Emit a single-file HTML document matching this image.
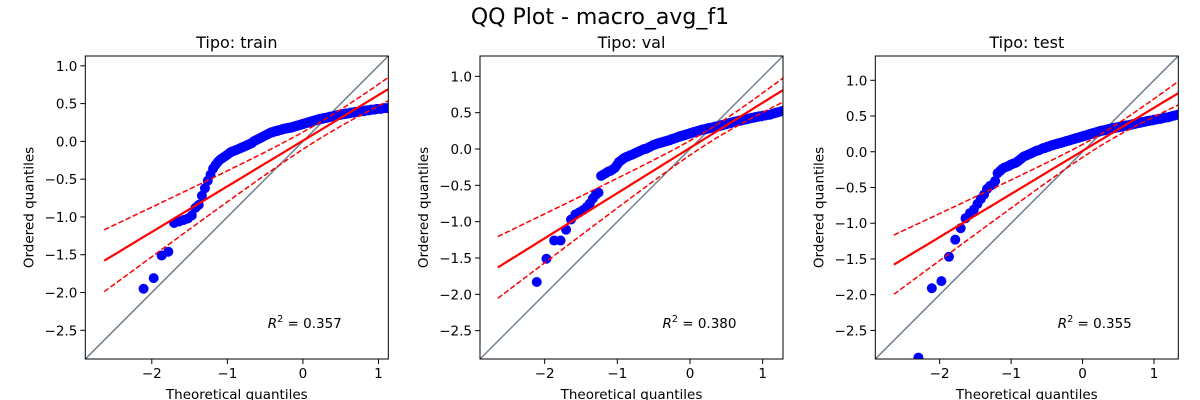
<!DOCTYPE html>
<html><head><meta charset="utf-8"><style>
html,body{margin:0;padding:0;background:#fff;}
svg{display:block;font-family:"DejaVu Sans","Liberation Sans",sans-serif;}
</style></head><body>
<svg id="chart" width="1200" height="400" viewBox="0 0 1200 400">
<text x="600" y="24" font-size="22" text-anchor="middle">QQ Plot - macro_avg_f1</text>
</svg>
<script>
// ---- data ----
const panelTitles = ["Tipo: train", "Tipo: val", "Tipo: test"];
const r2Labels = ["0.357", "0.380", "0.355"];
const nPoints = 150;
const trainValues = [-3.3,-3.0,-1.95,-1.81,-1.51,-1.46,-1.08,-1.06,-1.04,-1.02,-0.98,-0.88,-0.84,-0.72,-0.62,-0.52,-0.44,-0.36,-0.31,-0.27,
-0.24,-0.22,-0.20,-0.18,-0.16,-0.14,-0.13,-0.12,-0.11,-0.10,-0.09,-0.08,-0.07,-0.06,-0.05,-0.04,-0.03,-0.02,0.00,0.01,
0.02,0.03,0.04,0.05,0.06,0.07,0.08,0.09,0.10,0.11,0.12,0.12,0.13,0.13,0.14,0.14,0.15,0.15,0.16,0.16,
0.17,0.17,0.17,0.18,0.18,0.18,0.19,0.19,0.20,0.20,0.21,0.21,0.22,0.22,0.23,0.23,0.24,0.24,0.25,0.25,
0.26,0.26,0.27,0.27,0.28,0.28,0.29,0.29,0.30,0.30,0.30,0.31,0.31,0.31,0.32,0.32,0.33,0.33,0.33,0.34,
0.34,0.35,0.35,0.35,0.36,0.36,0.36,0.37,0.37,0.37,0.38,0.38,0.38,0.39,0.39,0.39,0.40,0.40,0.40,0.41,
0.41,0.41,0.42,0.42,0.42,0.43,0.43,0.43,0.44,0.44,0.44,0.45,0.45,0.46,0.46,0.47,0.47,0.48,0.48,0.49,
0.49,0.50,0.51,0.52,0.53,0.54,0.55,0.57,0.59,0.62];
const valValues = [-3.4,-3.0,-1.83,-1.51,-1.26,-1.26,-1.11,-0.97,-0.90,-0.87,-0.84,-0.80,-0.75,-0.68,-0.63,-0.60,-0.37,-0.35,-0.33,-0.31,
-0.30,-0.28,-0.26,-0.22,-0.18,-0.16,-0.14,-0.12,-0.11,-0.10,-0.09,-0.08,-0.07,-0.06,-0.05,-0.04,-0.03,-0.02,-0.01,0.00,
0.00,0.01,0.02,0.03,0.04,0.05,0.06,0.06,0.07,0.08,0.08,0.09,0.09,0.10,0.10,0.11,0.11,0.12,0.12,0.13,
0.14,0.14,0.15,0.15,0.16,0.17,0.17,0.18,0.18,0.19,0.19,0.20,0.20,0.21,0.21,0.22,0.22,0.23,0.23,0.24,
0.24,0.25,0.25,0.26,0.26,0.27,0.27,0.27,0.28,0.28,0.29,0.29,0.29,0.30,0.30,0.31,0.31,0.31,0.32,0.32,
0.33,0.33,0.34,0.34,0.35,0.35,0.36,0.36,0.37,0.37,0.38,0.38,0.39,0.39,0.40,0.40,0.41,0.41,0.42,0.42,
0.43,0.43,0.44,0.44,0.45,0.45,0.46,0.46,0.47,0.47,0.48,0.49,0.50,0.51,0.52,0.53,0.54,0.55,0.56,0.57,
0.58,0.59,0.60,0.62,0.64,0.66,0.68,0.70,0.73,0.78];
const testValues = [-3.5,-2.88,-1.91,-1.81,-1.47,-1.23,-1.07,-0.93,-0.86,-0.81,-0.73,-0.66,-0.60,-0.52,-0.48,-0.46,-0.41,-0.30,-0.27,-0.24,
-0.22,-0.21,-0.20,-0.18,-0.17,-0.16,-0.15,-0.13,-0.11,-0.09,-0.07,-0.06,-0.05,-0.04,-0.03,-0.02,-0.01,0.00,0.01,0.02,
0.02,0.03,0.04,0.05,0.05,0.06,0.07,0.07,0.08,0.09,0.09,0.10,0.10,0.11,0.11,0.12,0.12,0.13,0.13,0.14,
0.14,0.15,0.15,0.16,0.16,0.17,0.17,0.18,0.18,0.19,0.19,0.20,0.20,0.21,0.21,0.22,0.22,0.23,0.23,0.24,
0.24,0.25,0.25,0.26,0.26,0.27,0.27,0.28,0.28,0.29,0.29,0.30,0.30,0.30,0.31,0.31,0.32,0.32,0.32,0.33,
0.33,0.34,0.34,0.34,0.35,0.35,0.35,0.36,0.36,0.37,0.37,0.37,0.38,0.38,0.39,0.39,0.40,0.40,0.41,0.41,
0.42,0.42,0.43,0.43,0.44,0.44,0.45,0.45,0.46,0.46,0.47,0.48,0.48,0.49,0.50,0.51,0.52,0.53,0.54,0.55,
0.56,0.58,0.59,0.61,0.63,0.65,0.67,0.70,0.73,0.80];
const fitSlopes = [0.604, 0.622, 0.603];
const fitIntercepts = [0.009, 0.015, 0.012];
const bandScale = [0.135, 0.141, 0.1385];
const bandOffset = [0.625, 0.408, 0.336];
const bandCenter = [0.3, 0.3, 0.3];
const fitStartX = [-2.63, -2.645, -2.64];
const axisMin = [-2.88, -2.89, -2.90];
const axisMax = [1.13, 1.28, 1.34];
const xTickValues = [-2, -1, 0, 1];
const yTickValues = [1.0, 0.5, 0.0, -0.5, -1.0, -1.5, -2.0, -2.5];

// ---- layout ----
const panelLeft = [85.3, 480, 875.3];
const panelWidth = 303;
const panelTop = 56, panelBottom = 359;
const NS = "http://www.w3.org/2000/svg";
const svg = document.getElementById("chart");

function normInv(p){
  const a=[-39.69683028665376,220.9460984245205,-275.9285104469687,138.3577518672690,-30.66479806614716,2.506628277459239];
  const b=[-54.47609879822406,161.5858368580409,-155.6989798598866,66.80131188771972,-13.28068155288572];
  const c=[-0.007784894002430293,-0.3223964580411365,-2.400758277161838,-2.549732539343734,4.374664141464968,2.938163982698783];
  const d=[0.007784695709041462,0.3224671290700398,2.445134137142996,3.754408661907416];
  const pl=0.02425;
  let q,r;
  if(p<pl){q=Math.sqrt(-2*Math.log(p));return (((((c[0]*q+c[1])*q+c[2])*q+c[3])*q+c[4])*q+c[5])/((((d[0]*q+d[1])*q+d[2])*q+d[3])*q+1);}
  if(p>1-pl){q=Math.sqrt(-2*Math.log(1-p));return -(((((c[0]*q+c[1])*q+c[2])*q+c[3])*q+c[4])*q+c[5])/((((d[0]*q+d[1])*q+d[2])*q+d[3])*q+1);}
  q=p-0.5;r=q*q;
  return (((((a[0]*r+a[1])*r+a[2])*r+a[3])*r+a[4])*r+a[5])*q/(((((b[0]*r+b[1])*r+b[2])*r+b[3])*r+b[4])*r+1);
}
function mk(tag, attrs, parent){
  const e=document.createElementNS(NS,tag);
  for(const k in attrs) e.setAttribute(k, attrs[k]);
  (parent||svg).appendChild(e);
  return e;
}
const allValues=[trainValues, valValues, testValues];

for(let p=0;p<3;p++){
  const lo=axisMin[p], hi=axisMax[p];
  const L=panelLeft[p], R=L+panelWidth;
  const sx=v=>L+(v-lo)/(hi-lo)*(R-L);
  const sy=v=>panelBottom-(v-lo)/(hi-lo)*(panelBottom-panelTop);
  const g=mk("g",{});
  
  
  const clipId="clip"+p;
  const cp=mk("clipPath",{id:clipId},g);
  mk("rect",{x:L,y:panelTop,width:R-L,height:panelBottom-panelTop},cp);
  const plot=mk("g",{"clip-path":"url(#"+clipId+")"},g);

  const idl=mk("line",{x1:sx(lo),y1:sy(lo),x2:sx(hi),y2:sy(hi),stroke:"#708090","stroke-width":1.5},plot);
  
  

  const vals=allValues[p];
  for(let i=0;i<nPoints;i++){
    const xq=normInv((i+1-0.375)/(nPoints+0.25));
    const c=mk("circle",{cx:sx(xq),cy:sy(vals[i]),r:5,fill:"#0000ff"},plot);
    
    
  }

  const steps=60, x0=fitStartX[p];
  let fit="",up="",dn="";
  for(let s=0;s<=steps;s++){
    const xv=x0+(hi-x0)*s/steps;
    const yv=fitIntercepts[p]+fitSlopes[p]*xv;
    const h=bandScale[p]*Math.sqrt(bandOffset[p]+(xv-bandCenter[p])**2);
    const cmd=s?"L":"M";
    fit+=cmd+sx(xv).toFixed(2)+","+sy(yv).toFixed(2);
    up+=cmd+sx(xv).toFixed(2)+","+sy(yv+h).toFixed(2);
    dn+=cmd+sx(xv).toFixed(2)+","+sy(yv-h).toFixed(2);
  }
  const bu=mk("path",{d:up,fill:"none",stroke:"#ff0000","stroke-width":1.5,"stroke-dasharray":"5.5,2.4"},plot);
  
  
  const bd=mk("path",{d:dn,fill:"none",stroke:"#ff0000","stroke-width":1.5,"stroke-dasharray":"5.5,2.4"},plot);
  
  
  const fl=mk("path",{d:fit,fill:"none",stroke:"#ff0000","stroke-width":2.2},plot);
  
  

  const fr=mk("rect",{x:L,y:panelTop,width:R-L,height:panelBottom-panelTop,fill:"none",stroke:"#000","stroke-width":1},g);
  
  

  xTickValues.forEach(t=>{
    const x=sx(t);
    mk("line",{x1:x,y1:panelBottom,x2:x,y2:panelBottom+5,stroke:"#000","stroke-width":1},g);
    const tx=mk("text",{x:x,y:panelBottom+19,"font-size":13.5,"text-anchor":"middle"},g);
    tx.textContent=t<0?"\u2212"+Math.abs(t):String(t);
    
    
  });
  yTickValues.forEach(t=>{
    const y=sy(t);
    mk("line",{x1:L-5,y1:y,x2:L,y2:y,stroke:"#000","stroke-width":1},g);
    const ty=mk("text",{x:L-8,y:y+5,"font-size":13.5,"text-anchor":"end"},g);
    ty.textContent=(t<0?"\u2212":"")+Math.abs(t).toFixed(1);
    
    
  });

  const ti=mk("text",{x:(L+R)/2,y:48,"font-size":16,"text-anchor":"middle"},g);
  ti.textContent=panelTitles[p];
  
  

  const xl=mk("text",{x:(L+R)/2,y:399,"font-size":13.5,"text-anchor":"middle"},g);
  xl.textContent="Theoretical quantiles";
  
  

  const yx=L-52, yy=(panelTop+panelBottom)/2;
  const yl=mk("text",{x:yx,y:yy,"font-size":13.5,"text-anchor":"middle",transform:"rotate(-90 "+yx+" "+yy+")"},g);
  yl.textContent="Ordered quantiles";
  
  

  const r2=mk("text",{x:L+182.5,y:328,"font-size":13.5},g);
  
  
  const t1=mk("tspan",{"font-style":"italic"},r2); t1.textContent="R";
  const t2=mk("tspan",{"font-size":9.5,dy:-6},r2); t2.textContent="2";
  const t3=mk("tspan",{dy:6},r2); t3.textContent=" = "+r2Labels[p];
}
</script>
</body></html>
